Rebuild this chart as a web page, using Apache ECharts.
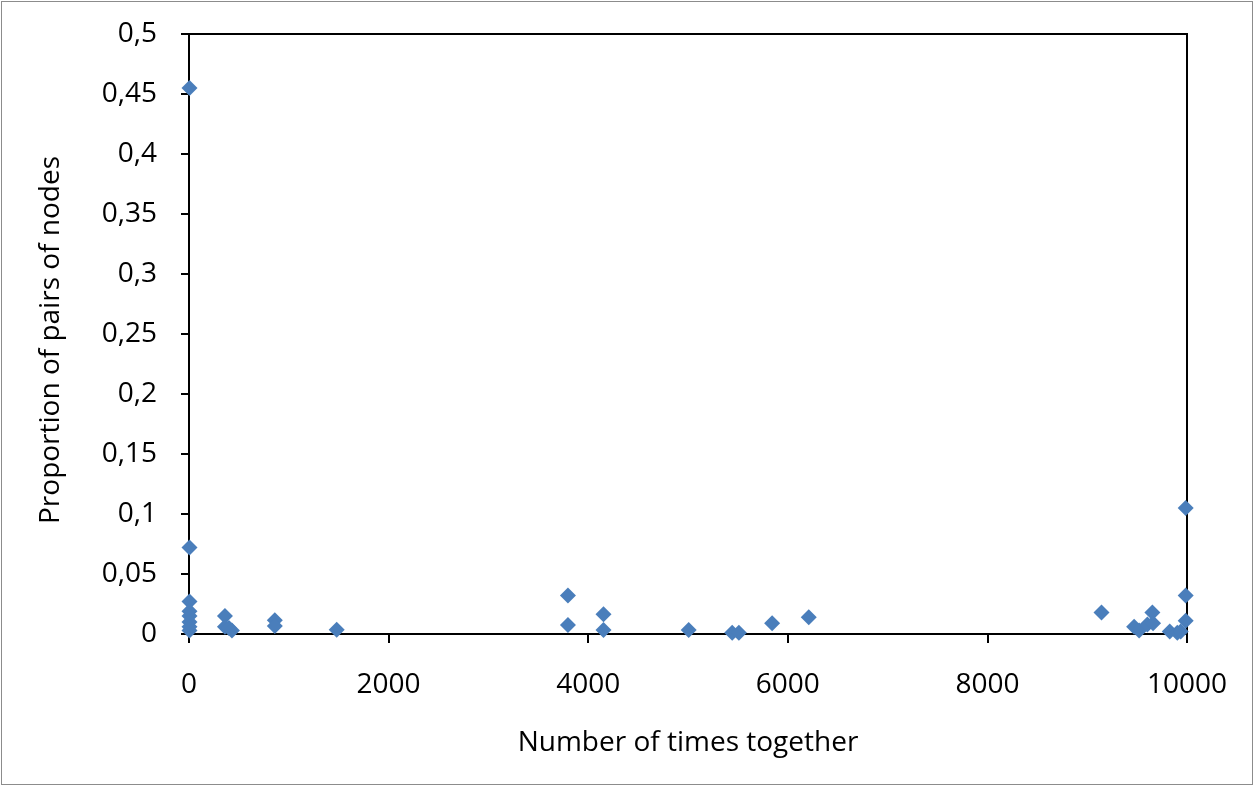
<!DOCTYPE html>
<html>
<head>
<meta charset="utf-8">
<script src="https://cdn.jsdelivr.net/npm/echarts@6/dist/echarts.min.js"></script>
<style>
html,body{margin:0;padding:0;background:#fff;}
#wrap{position:absolute;left:1px;top:1px;width:1250px;height:782px;border:1px solid #8c8c8c;}
#chart{width:1250px;height:782px;}
</style>
</head>
<body>
<div id="wrap"><div id="chart"></div></div>
<script>
var xValues = [5, 5, 5, 5, 5, 5, 5, 5,
  360, 360, 400, 430, 860, 860, 1480,
  3797, 3797, 4153, 4153, 5007, 5443, 5510, 5843, 6210,
  9143, 9470, 9520, 9603, 9660, 9653, 9827, 9903, 9937, 9987, 9987, 9987];
var yValues = [0.455, 0.072, 0.027, 0.019, 0.015, 0.010, 0.006, 0.003,
  0.015, 0.006, 0.005, 0.003, 0.0115, 0.0067, 0.0035,
  0.032, 0.0075, 0.0164, 0.0033, 0.0033, 0.001, 0.001, 0.009, 0.014,
  0.018, 0.006, 0.003, 0.008, 0.009, 0.018, 0.002, 0.001, 0.002, 0.105, 0.032, 0.011];
var xTicks = [0, 2000, 4000, 6000, 8000, 10000];
var yTicks = [0, 0.05, 0.1, 0.15, 0.2, 0.25, 0.3, 0.35, 0.4, 0.45, 0.5];

var points = xValues.map(function (x, i) { return [x, yValues[i]]; });
var font = 'Open Sans';
var chart = echarts.init(document.getElementById('chart'), null, {renderer: 'canvas'});
chart.setOption({
  animation: false,
  grid: {left: 187, right: 65, top: 32, bottom: 150, show: true, borderColor: '#000', borderWidth: 2, containLabel: false},
  xAxis: {
    type: 'value', min: xTicks[0], max: xTicks[xTicks.length - 1], interval: 2000,
    name: 'Number of times together', nameLocation: 'middle', nameGap: 95,
    nameTextStyle: {fontFamily: font, fontSize: 28, color: '#000'},
    axisLine: {show: true, onZero: false, lineStyle: {color: '#000', width: 2}},
    axisTick: {show: true, inside: false, length: 9, lineStyle: {color: '#000', width: 2}},
    axisLabel: {fontFamily: font, fontSize: 28, color: '#000', margin: 37,
      formatter: function (v) { return String(v); }},
    splitLine: {show: false}
  },
  yAxis: {
    type: 'value', min: yTicks[0], max: yTicks[yTicks.length - 1], interval: 0.05,
    name: 'Proportion of pairs of nodes', nameLocation: 'middle', nameGap: 124,
    nameTextStyle: {fontFamily: font, fontSize: 28, color: '#000', padding: [0, 12, 0, 0]},
    axisLine: {show: true, lineStyle: {color: '#000', width: 2}},
    axisTick: {show: true, inside: false, length: 8, lineStyle: {color: '#000', width: 2}},
    axisLabel: {fontFamily: font, fontSize: 28, color: '#000', margin: 32,
      formatter: function (v) { return String(Math.round(v * 100) / 100).replace('.', ','); }},
    splitLine: {show: false}
  },
  series: [{
    type: 'scatter',
    data: points,
    symbol: 'diamond',
    symbolSize: 16,
    itemStyle: {color: '#4a7ebb', opacity: 1}
  }]
});
</script>
</body>
</html>
